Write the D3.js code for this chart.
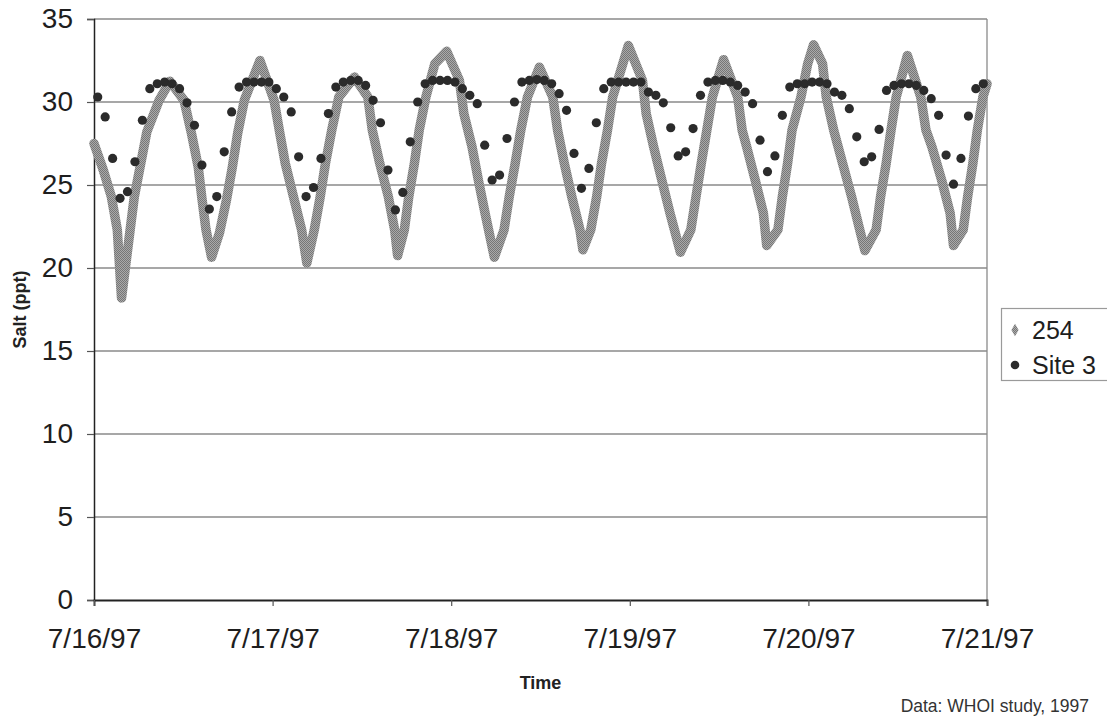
<!DOCTYPE html>
<html>
<head>
<meta charset="utf-8">
<script src="https://cdn.jsdelivr.net/npm/d3@7"></script>
<style>
  html, body { margin: 0; padding: 0; background: #fff; }
  svg { display: block; font-family: "Liberation Sans", Arial, Helvetica, sans-serif; }
</style>
</head>
<body>
<svg id="chart" width="1107" height="721"></svg>
<script>
// Salinity record, 16–21 July 1997
const startDate = new Date(1997, 6, 16, 0, 0);

// Instrument 254: hours after start and salinity (ppt)
const hours254 = [0, 1.25, 2.33, 3.13, 3.7, 5.42, 7.1, 8.75, 10.2, 12.1, 13.1, 14.0, 14.5, 15.05, 15.8,
  16.85, 17.8, 18.6, 19.3, 20.2, 22.3,
  24.2, 24.9, 25.7, 26.8, 27.9, 28.6,
  29.6, 30.4, 31.1, 31.95, 32.9, 35.0,
  36.8, 37.4, 38.4, 39.55, 40.4, 40.8,
  41.7, 42.3, 43.05, 43.7, 44.6, 45.8, 47.4,
  49.1, 49.7, 50.8, 51.65, 52.55, 53.8,
  55.1, 55.8, 56.6, 57.35, 58.25, 59.85,
  61.65, 62.3, 63.2, 64.2, 65.3, 65.7,
  66.75, 67.55, 68.2, 69.0, 69.7, 71.8,
  73.7, 74.2, 75.2, 76.3, 77.4, 78.8,
  80.2, 80.9, 81.6, 82.35, 83.1, 84.6,
  86.5, 87.1, 87.7, 88.85, 89.95, 90.4,
  91.9, 92.5, 93.2, 93.8, 95.0, 95.9, 96.7,
  97.9, 98.4, 99.4, 100.6, 101.8, 102.9, 103.6,
  105.1, 105.7, 106.45, 107.1, 107.8, 109.3,
  111.1, 111.8, 112.6, 113.9, 115.05, 115.5,
  116.8, 117.4, 118.1, 118.7, 119.45, 120.0];
const salt254 = [27.5, 25.9, 24.3, 22.3, 18.2, 24.3, 28.2, 30.1, 31.25, 30.1, 28.1, 26.1, 24.2, 22.3, 20.65,
  22.1, 24.1, 26.1, 28.1, 30.1, 32.5,
  30.1, 28.3, 26.3, 24.3, 22.3, 20.3,
  22.3, 24.3, 26.3, 28.3, 30.3, 31.5,
  30.3, 28.3, 26.3, 24.3, 22.3, 20.75,
  22.3, 24.3, 26.3, 28.3, 30.3, 32.3, 33.05,
  31.3, 29.3, 27.3, 25.3, 23.3, 20.65,
  22.3, 24.3, 26.3, 28.3, 30.3, 32.1,
  30.3, 28.3, 26.3, 24.3, 22.3, 21.1,
  22.3, 24.3, 26.3, 28.3, 30.3, 33.4,
  31.3, 29.3, 27.3, 25.3, 23.3, 20.95,
  22.3, 24.3, 26.3, 28.3, 30.3, 32.55,
  30.3, 28.3, 27.3, 25.3, 23.3, 21.35,
  22.3, 24.3, 26.3, 28.3, 30.3, 32.3, 33.45,
  32.3, 30.3, 28.3, 26.3, 24.3, 22.3, 21.05,
  22.3, 24.3, 26.3, 28.3, 30.3, 32.8,
  30.3, 28.3, 27.3, 25.3, 23.3, 21.35,
  22.3, 24.3, 26.3, 28.3, 30.3, 31.1];

// Site 3: hourly readings, first one half an hour after start
const site3FirstHour = 0.5;
const salt3 = [
  30.3, 29.1, 26.6, 24.2, 24.6, 26.4, 28.9, 30.8, 31.1, 31.2,
  31.1, 30.8, 29.95, 28.6, 26.2, 23.55, 24.3, 27.0, 29.4, 30.9,
  31.2, 31.2, 31.2, 31.2, 30.8, 30.3, 29.4, 26.7, 24.3, 24.85,
  26.6, 29.3, 30.9, 31.2, 31.3, 31.3, 31.0, 30.1, 28.75, 25.9,
  23.5, 24.55, 27.6, 30.0, 31.1, 31.3, 31.3, 31.3, 31.2, 30.8,
  30.4, 29.9, 27.4, 25.3, 25.6, 27.8, 30.0, 31.2, 31.3, 31.35,
  31.3, 31.1, 30.5, 29.5, 26.9, 24.8, 26.0, 28.75, 30.8, 31.2,
  31.2, 31.2, 31.2, 31.2, 30.6, 30.4, 29.95, 28.45, 26.75, 27.0,
  28.4, 30.4, 31.2, 31.3, 31.3, 31.2, 31.0, 30.6, 29.9, 27.7,
  25.8, 26.75, 29.2, 30.9, 31.1, 31.1, 31.2, 31.2, 31.1, 30.6,
  30.4, 29.6, 27.9, 26.4, 26.7, 28.35, 30.7, 31.0, 31.1, 31.1,
  31.0, 30.7, 30.2, 29.2, 26.8, 25.05, 26.6, 29.15, 30.8, 31.1];

// Axis ticks
const yTicks = [0, 5, 10, 15, 20, 25, 30, 35];
const xTickDays = [16, 17, 18, 19, 20, 21];
const xTickLabels = ["7/16/97", "7/17/97", "7/18/97", "7/19/97", "7/20/97", "7/21/97"];

const seriesNames = ["254", "Site 3"];

const hourToDate = h => new Date(startDate.getTime() + h * 3600e3);

const svg = d3.select("#chart");
const plot = { left: 94, right: 987, top: 19, bottom: 600 };

const x = d3.scaleTime()
  .domain([startDate, new Date(1997, 6, 21, 0, 0)])
  .range([plot.left, plot.right]);
const y = d3.scaleLinear().domain([0, 35]).range([plot.bottom, plot.top]);

svg.append("rect").attr("width", 1107).attr("height", 721).attr("fill", "#fff");

// Grainy grey texture for the dense 254 trace
const defs = svg.append("defs");
const pat = defs.append("pattern").attr("id", "grain")
  .attr("patternUnits", "userSpaceOnUse").attr("width", 2).attr("height", 2);
pat.append("rect").attr("width", 2).attr("height", 2).attr("fill", "#aaaaaa");
pat.append("rect").attr("width", 1).attr("height", 1).attr("fill", "#767676");
pat.append("rect").attr("x", 1).attr("y", 1).attr("width", 1).attr("height", 1).attr("fill", "#767676");

// Horizontal gridlines
svg.append("g").selectAll("line").data(yTicks.filter(d => d > 0)).join("line")
  .attr("x1", plot.left).attr("x2", plot.right)
  .attr("y1", d => y(d)).attr("y2", d => y(d))
  .attr("stroke", "#8a8a8a").attr("stroke-width", 1.3);

// Right border of the plot area
svg.append("line")
  .attr("x1", plot.right).attr("x2", plot.right)
  .attr("y1", plot.top).attr("y2", plot.bottom)
  .attr("stroke", "#8a8a8a").attr("stroke-width", 1.3);

// Y axis
const yAxis = d3.axisLeft(y).tickValues(yTicks).tickSize(7).tickPadding(14)
  .tickFormat(d3.format("d"));
const gy = svg.append("g").attr("transform", `translate(${plot.left},0)`).call(yAxis);
gy.select(".domain").attr("stroke", "#222").attr("stroke-width", 1.5);
gy.selectAll(".tick line").attr("stroke", "#555").attr("stroke-width", 1.2);
gy.selectAll(".tick text").attr("font-size", 28).attr("fill", "#1e1e1e")
  .attr("font-family", "Liberation Sans, Arial, sans-serif");

// X axis
const xAxis = d3.axisBottom(x)
  .tickValues(xTickDays.map(d => new Date(1997, 6, d)))
  .tickFormat((d, i) => xTickLabels[i])
  .tickSize(6).tickPadding(22);
const gx = svg.append("g").attr("transform", `translate(0,${plot.bottom})`).call(xAxis);
gx.select(".domain").attr("stroke", "#222").attr("stroke-width", 1.8);
gx.selectAll(".tick line").attr("stroke", "#555").attr("stroke-width", 1.2);
gx.selectAll(".tick text").attr("font-size", 28).attr("fill", "#1e1e1e")
  .attr("font-family", "Liberation Sans, Arial, sans-serif");

// 254 trace
const line254 = d3.line()
  .x((d, i) => x(hourToDate(hours254[i])))
  .y(d => y(d));
svg.append("path").datum(salt254)
  .attr("d", line254)
  .attr("fill", "none")
  .attr("stroke", "url(#grain)")
  .attr("stroke-width", 9.5)
  .attr("stroke-linejoin", "round")
  .attr("stroke-linecap", "round");

// Site 3 points
svg.append("g").selectAll("circle").data(salt3).join("circle")
  .attr("cx", (d, i) => x(hourToDate(site3FirstHour + i)))
  .attr("cy", d => y(d))
  .attr("r", 4.6)
  .attr("fill", "#2b2b2b");

// Axis titles
svg.append("text")
  .attr("transform", `translate(26,${(plot.top + plot.bottom) / 2}) rotate(-90)`)
  .attr("text-anchor", "middle")
  .attr("font-size", 18).attr("font-weight", "bold").attr("fill", "#222")
  .text("Salt (ppt)");
svg.append("text")
  .attr("x", (plot.left + plot.right) / 2).attr("y", 689)
  .attr("text-anchor", "middle")
  .attr("font-size", 18).attr("font-weight", "bold").attr("fill", "#222")
  .text("Time");

// Source note
svg.append("text")
  .attr("x", 1089).attr("y", 712)
  .attr("text-anchor", "end")
  .attr("font-size", 17.5).attr("fill", "#333")
  .text("Data: WHOI study, 1997");

// Legend
const lg = svg.append("g");
lg.append("rect").attr("x", 1001.5).attr("y", 308.5).attr("width", 120).attr("height", 72)
  .attr("fill", "#fff").attr("stroke", "#9a9a9a").attr("stroke-width", 1.2);
lg.append("path")
  .attr("d", d3.symbol(d3.symbolDiamond, 45)())
  .attr("transform", "translate(1015,330)")
  .attr("fill", "url(#grain)");
lg.append("circle").attr("cx", 1015).attr("cy", 365).attr("r", 4.3).attr("fill", "#2b2b2b");
lg.selectAll("text.lbl").data(seriesNames).join("text")
  .attr("class", "lbl")
  .attr("x", 1032).attr("y", (d, i) => 339 + i * 35)
  .attr("font-size", 25).attr("fill", "#1e1e1e")
  .text(d => d);
</script>
</body>
</html>
